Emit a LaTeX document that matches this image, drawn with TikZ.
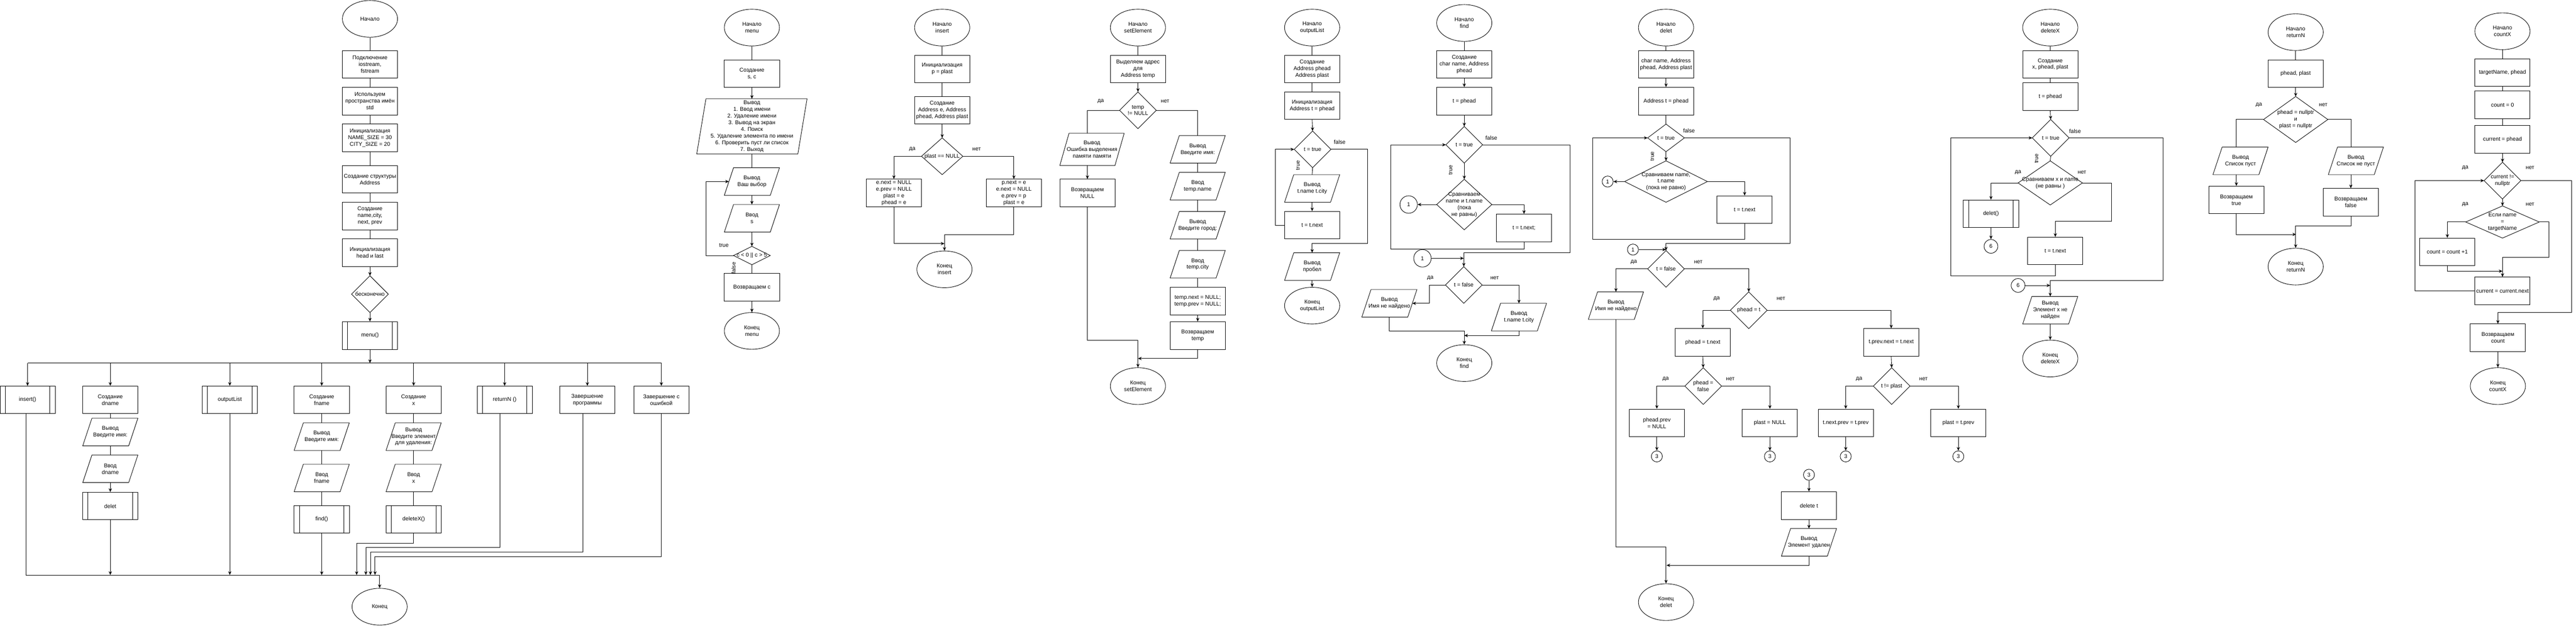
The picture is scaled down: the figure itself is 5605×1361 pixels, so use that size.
\documentclass[tikz,border=0pt]{standalone}
\usepackage{fontspec}
\setmainfont{Liberation Sans}
\usetikzlibrary{shapes.geometric,arrows.meta}
\newcommand\fs{\fontsize{12pt}{14.5pt}\selectfont}
\tikzset{
  ln/.style={line width=1pt},
  arr/.style={ln, -{Stealth[length=8pt,width=7pt]}},
  txt/.style={inner sep=0pt, align=center, font=\fs},
  blk/.style={draw, line width=1pt, rectangle, inner sep=0pt, minimum width=120pt, minimum height=60pt, align=center, font=\fs},
  term/.style={draw, line width=1pt, ellipse, inner sep=0pt, minimum width=120pt, minimum height=80pt, align=center, font=\fs},
  shp/.style={rectangle, inner sep=0pt, outer sep=0pt},
  con/.style={draw, line width=1pt, circle, inner sep=0pt, font=\fs}
}
\newcommand\mkBlk[4]{\node[blk] (#1) at (#2,#3) {#4};}
\newcommand\mkSub[4]{\node[blk] (#1) at (#2,#3) {#4};
  \draw[ln] ([xshift=12pt]#1.north west) -- ([xshift=12pt]#1.south west)
            ([xshift=-12pt]#1.north east) -- ([xshift=-12pt]#1.south east);}
\newcommand\mkPara[6]{\node[shp, minimum width=#4pt, minimum height=#5pt] (#1) at (#2,#3) {};
  \draw[ln] ([xshift=20pt]#1.north west) -- (#1.north east) -- ([xshift=-20pt]#1.south east) -- (#1.south west) -- cycle;
  \node[txt] (#1t) at (#1) {#6};}
\newcommand\mkDia[6]{\node[shp, minimum width=#4pt, minimum height=#5pt] (#1) at (#2,#3) {};
  \draw[ln] (#1.north) -- (#1.east) -- (#1.south) -- (#1.west) -- cycle;
  \node[txt] (#1t) at (#1) {#6};}
\newcommand\mkTerm[4]{\node[term] (#1) at (#2,#3) {#4};}
\newcommand\mkCirc[5]{\node[con, minimum size=#4pt] (#1) at (#2,#3) {#5};}
\newcommand\mkLbl[4]{\node[txt] (#1) at (#2,#3) {#4};}
\newcommand\mkRot[4]{\node[txt, rotate=90] (#1) at (#2,#3) {#4};}
\begin{document}
\begin{tikzpicture}[x=1pt,y=-1pt]
\useasboundingbox (0,0) rectangle (5605,1361);
\fill[white] (0,0) rectangle (5605,1361);

% ================= main =================
\mkTerm{m0}{805}{41}{Начало}
\mkBlk{m1}{805}{140}{Подключение\\iostream,\\fstream}
\mkBlk{m2}{805}{220}{Используем\\пространства имён\\std}
\mkBlk{m3}{805}{300}{Инициализация\\NAME\_SIZE = 30\\CITY\_SIZE = 20}
\mkBlk{m4}{805}{390}{Создание структуры\\Address}
\mkBlk{m5}{805}{470}{Создание\\name,city,\\next, prev}
\mkBlk{m6}{805}{550}{Инициализация\\head и last}
\mkDia{m7}{805}{640}{80}{80}{бесконечно}
\mkSub{m8}{805}{730}{menu()}
\draw[ln] (m0.south) -- (m1.north);
\draw[ln] (m1.south) -- (m2.north);
\draw[ln] (m2.south) -- (m3.north);
\draw[ln] (m3.south) -- (m4.north);
\draw[ln] (m4.south) -- (m5.north);
\draw[ln] (m5.south) -- (m6.north);
\draw[arr] (m6.south) -- (m7.north);
\draw[arr] (m7.south) -- (m8.north);
\coordinate (bL) at (60,790);
\coordinate (bR) at (1439,790);
\draw[ln] (bL) -- (bR);
\draw[arr] (m8.south) -- (m8.south |- bL);

\mkSub{i1}{60}{870}{insert()}
\mkBlk{d1}{240}{870}{Создание\\dname}
\mkPara{d2}{240}{940}{120}{60}{Вывод\\Введите имя:}
\mkPara{d3}{240}{1020}{120}{60}{Ввод\\dname}
\mkSub{d4}{240}{1101}{delet}
\mkSub{o1}{500}{870}{outputList}
\mkBlk{f1}{700}{870}{Создание\\fname}
\mkPara{f2}{700}{950}{120}{60}{Вывод\\Введите имя:}
\mkPara{f3}{700}{1040}{120}{60}{Ввод\\fname}
\mkSub{f4}{700}{1130}{find()}
\mkBlk{x1}{900}{870}{Создание\\x}
\mkPara{x2}{900}{950}{120}{60}{Вывод\\Введите элемент\\для удаления:}
\mkPara{x3}{900}{1040}{120}{60}{Ввод\\x}
\mkSub{x4}{900}{1130}{deleteX()}
\mkSub{r1}{1098}{870}{returnN ()}
\mkBlk{z1}{1278}{870}{Завершение\\программы}
\mkBlk{z2}{1439}{870}{Завершение с\\ошибкой}
\mkTerm{mend}{826}{1320}{Конец}

\foreach \n in {i1,d1,o1,f1,x1,r1,z1,z2} { \draw[arr] (\n.north |- bL) -- (\n.north); }
\draw[ln] (d1.south) -- (d2.north);
\draw[ln] (d2.south) -- (d3.north);
\draw[arr] (d3.south) -- (d4.north);
\draw[ln] (f1.south) -- (f2.north);
\draw[ln] (f2.south) -- (f3.north);
\draw[ln] (f3.south) -- (f4.north);
\draw[ln] (x1.south) -- (x2.north);
\draw[ln] (x2.south) -- (x3.north);
\draw[ln] (x3.south) -- (x4.north);
\coordinate (mj) at (826,1251);
\draw[ln] ([xshift=-4pt]i1.south) |- (mj);
\draw[arr] (mj) -- (mend.north);
\draw[arr] (d4.south) -- (d4.south |- mj);
\draw[arr] (o1.south) -- (o1.south |- mj);
\draw[arr] (f4.south) -- (f4.south |- mj);
\draw[arr] (x4.south) -- ++(0,21) -| ([xshift=-50pt]mj);
\draw[arr] ([xshift=-10pt]r1.south) -- ++(0,291) -| ([xshift=-30pt]mj);
\draw[arr] ([xshift=-10pt]z1.south) -- ++(0,301) -| ([xshift=-20pt]mj);
\draw[arr] (z2.south) -- ++(0,311) -| ([xshift=-10pt]mj);

% ================= menu =================
\mkTerm{n0}{1636}{60}{Начало\\menu}
\mkBlk{n1}{1636}{160}{Создание\\s, c}
\mkPara{n2}{1636}{275}{240}{120}{Вывод\\1. Ввод имени\\2. Удаление имени\\3. Вывод на экран\\4. Поиск\\5. Удаление элемента по имени\\6. Проверить пуст ли список\\7. Выход}
\mkPara{n3}{1636}{395}{120}{60}{Вывод\\Ваш выбор}
\mkPara{n4}{1636}{475}{120}{60}{Ввод\\s}
\mkDia{n5}{1636}{556}{80}{40}{c < 0 || c > 5}
\mkBlk{n6}{1636}{625}{Возвращаем c}
\mkTerm{n7}{1636}{720}{Конец\\menu}
\draw[ln] (n0.south) -- (n1.north);
\draw[arr] (n1.south) -- (n2.north);
\draw[ln] (n2.south) -- (n3.north);
\draw[arr] (n3.south) -- (n4.north);
\draw[arr] (n4.south) -- (n5.north);
\draw[arr] (n5.west) -- ++(-60,0) |- ([xshift=10pt]n3.west);
\draw[ln] (n5.south) -- (n6.north);
\draw[arr] (n6.south) -- (n7.north);
\mkLbl{n8}{1575}{534}{true}
\mkRot{n9}{1596}{583}{false}

% ================= insert =================
\mkTerm{a0}{2050}{60}{Начало\\insert}
\mkBlk{a1}{2050}{150}{Инициализация\\p = plast}
\mkBlk{a2}{2050}{240}{Создание\\Address e, Address\\phead, Address plast}
\mkDia{a3}{2050}{340}{90}{80}{plast == NULL}
\mkBlk{a4}{1945}{420}{e.next = NULL\\e.prev = NULL\\plast = e\\phead = e}
\mkBlk{a5}{2206}{420}{p.next = e\\e.next = NULL\\e.prev = p\\plast = e}
\mkTerm{a6}{2055}{586}{Конец\\insert}
\coordinate (a7) at (2055,530);
\draw[ln] (a0.south) -- (a1.north);
\draw[ln] (a1.south) -- (a2.north);
\draw[arr] (a2.south) -- (a3.north);
\draw[arr] (a3.west) -| (a4.north);
\draw[arr] (a3.east) -| (a5.north);
\draw[arr] (a5.south) -- ++(0,60) -| (a6.north);
\draw[arr] (a4.south) |- (a7);
\mkLbl{a8}{1985}{325}{да}
\mkLbl{a9}{2125}{325}{нет}

% ================= setElement =================
\mkTerm{s0}{2476}{60}{Начало\\setElement}
\mkBlk{s1}{2476}{150}{Выделяем адрес\\для\\Address temp}
\mkDia{s2}{2476}{240}{80}{80}{temp\\!= NULL}
\mkPara{s3}{2376}{325}{140}{70}{Вывод\\Ошибка выделения\\памяти памяти}
\mkBlk{s4}{2366}{420}{Возвращаем\\NULL}
\mkPara{s5}{2606}{325}{120}{60}{Вывод\\Введите имя:}
\mkPara{s6}{2606}{405}{120}{60}{Ввод\\temp.name}
\mkPara{s7}{2606}{490}{120}{60}{Вывод\\Введите город:}
\mkPara{s8}{2606}{575}{120}{60}{Ввод\\temp.city}
\mkBlk{s9}{2606}{655}{temp.next = NULL;\\temp.prev = NULL;}
\mkBlk{s10}{2606}{730}{Возвращаем\\temp}
\mkTerm{s11}{2476}{840}{Конец\\setElement}
\coordinate (s12) at (2476,780);
\draw[ln] (s0.south) -- (s1.north);
\draw[arr] (s1.south) -- (s2.north);
\draw[ln] (s2.west) -| ([xshift=-10pt]s3.north);
\draw[arr] ([xshift=-10pt]s3.south) -- (s4.north);
\draw[ln] (s2.east) -| (s5.north);
\draw[ln] (s5.south) -- (s6.north);
\draw[ln] (s6.south) -- (s7.north);
\draw[ln] (s7.south) -- (s8.north);
\draw[ln] (s8.south) -- (s9.north);
\draw[arr] (s9.south) -- (s10.north);
\draw[arr] (s4.south) -- ++(0,290) -| (s11.north);
\draw[arr] (s10.south) |- (s12);
\mkLbl{s13}{2395}{220}{да}
\mkLbl{s14}{2535}{220}{нет}

% ================= outputList =================
\mkTerm{p0}{2855}{60}{Начало\\outputList}
\mkBlk{p1}{2855}{150}{Создание\\Address phead\\Address plast}
\mkBlk{p2}{2855}{230}{Инициализация\\Address t = phead}
\mkDia{p3}{2856}{325}{80}{80}{t = true}
\mkPara{p4}{2855}{410}{120}{60}{Вывод\\t.name t.city}
\mkBlk{p5}{2855}{490}{t = t.next}
\mkPara{p6}{2855}{580}{120}{60}{Вывод\\пробел}
\mkTerm{p7}{2855}{665}{Конец\\outputList}
\draw[ln] (p0.south) -- (p1.north);
\draw[ln] (p1.south) -- (p2.north);
\draw[arr] (p2.south) -- (p3.north);
\draw[ln] (p3.south) -- (p4.north);
\draw[arr] (p4.south) -- (p5.north);
\draw[arr] (p5.west) -- ++(-20,0) |- (p3.west);
\draw[arr] (p3.east) -- ++(80,0) -- ++(0,205) -| (p6.north);
\draw[arr] (p6.south) -- (p7.north);
\mkLbl{p8}{2915}{309}{false}
\mkRot{p9}{2824}{360}{true}

% ================= find =================
\mkTerm{q0}{3186}{50}{Начало\\find}
\mkBlk{q1}{3186}{140}{Создание\\char name, Address\\phead}
\mkBlk{q2}{3186}{220}{t = phead}
\mkDia{q3}{3186}{315}{80}{80}{t = true}
\mkDia{q4}{3186}{445}{120}{110}{Сравниваем\\name и t.name\\(пока\\не равны)}
\mkCirc{q5}{3065}{445}{38}{1}
\mkBlk{q6}{3316}{496}{t = t.next;}
\mkCirc{q7}{3095}{562}{38}{1}
\mkDia{q8}{3185}{620}{80}{80}{t = false}
\mkPara{q9}{3023}{660}{120}{60}{Вывод\\Имя не найдено}
\mkPara{q10}{3305}{690}{120}{60}{Вывод\\t.name t.city}
\mkTerm{q11}{3186}{790}{Конец\\find}
\coordinate (q12) at (3186,730);
\draw[ln] (q0.south) -- (q1.north);
\draw[arr] (q1.south) -- (q2.north);
\draw[arr] (q2.south) -- (q3.north);
\draw[arr] (q3.south) -- (q4.north);
\draw[arr] (q4.west) -- (q5.east);
\draw[arr] (q4.east) -| (q6.north);
\draw[arr] (q6.south) -- ++(0,15) -- ++(-290,0) |- (q3.west);
\draw[arr] (q3.east) -- ++(190,0) -- ++(0,235) -| (q8.north);
\draw[arr] (q7.east) -- (q7.east -| q8.north);
\draw[arr] (q8.west) -- ++(-35,0) |- ([xshift=-10pt]q9.east);
\draw[arr] (q8.east) -| (q10.north);
\draw[arr] (q9.south) -- ++(0,30) -| (q11.north);
\draw[arr] (q10.south) |- (q12);
\mkLbl{q13}{3245}{300}{false}
\mkRot{q14}{3156}{370}{true}
\mkLbl{q15}{3112}{605}{да}
\mkLbl{q16}{3252}{605}{нет}

% ================= delet =================
\mkTerm{e0}{3625}{60}{Начало\\delet}
\mkBlk{e1}{3625}{140}{char name, Address\\phead, Address plast}
\mkBlk{e2}{3625}{220}{Address t = phead}
\mkDia{e3}{3625}{300}{80}{60}{t = true}
\mkDia{e4}{3625}{395}{180}{90}{Сравниваем name,\\t.name\\(пока не равно)}
\mkCirc{e5}{3498}{395}{24}{1}
\mkBlk{e6}{3796}{456}{t = t.next}
\mkCirc{e7}{3553}{543}{24}{1}
\mkDia{e8}{3625}{585}{80}{80}{t = false}
\mkPara{e9}{3516}{665}{120}{60}{Вывод\\Имя не найдено}
\mkDia{e10}{3805}{675}{80}{80}{phead = t}
\mkBlk{e11}{3705}{745}{phead = t.next}
\mkBlk{e12}{4115}{745}{t.prev.next = t.next}
\mkDia{e13}{3706}{840}{80}{80}{phead =\\false}
\mkDia{e14}{4116}{840}{80}{80}{t != plast}
\mkBlk{e15}{3605}{920}{phead.prev\\= NULL}
\mkBlk{e16}{3851}{920}{plast = NULL}
\mkBlk{e17}{4016}{920}{t.next.prev = t.prev}
\mkBlk{e18}{4261}{920}{plast = t.prev}
\mkCirc{e19}{3605}{993}{24}{3}
\mkCirc{e20}{3851}{993}{24}{3}
\mkCirc{e21}{4016}{993}{24}{3}
\mkCirc{e22}{4261}{993}{24}{3}
\mkCirc{e23}{3936}{1033}{24}{3}
\mkBlk{e24}{3936}{1100}{delete t}
\mkPara{e25}{3936}{1180}{120}{60}{Вывод\\Элемент удален}
\mkTerm{e26}{3625}{1310}{Конец\\delet}
\coordinate (e27) at (3626,1230);
\draw[ln] (e0.south) -- (e1.north);
\draw[arr] (e1.south) -- (e2.north);
\draw[ln] (e2.south) -- (e3.north);
\draw[arr] (e3.south) -- (e4.north);
\draw[arr] (e4.west) -- (e5.east);
\draw[arr] (e4.east) -| (e6.north);
\draw[arr] (e6.south) -- ++(0,34) -- ++(-330,0) |- (e3.west);
\draw[arr] (e3.east) -- ++(230,0) -- ++(0,230) -| (e8.north);
\draw[arr] (e7.east) -- (e7.east -| e8.north);
\draw[arr] (e8.west) -| (e9.north);
\draw[arr] (e8.east) -| (e10.north);
\draw[arr] (e10.west) -| (e11.north);
\draw[arr] (e10.east) -| (e12.north);
\draw[arr] (e11.south) -- (e13.north);
\draw[arr] (e12.south) -- (e14.north);
\draw[arr] (e13.west) -| (e15.north);
\draw[arr] (e13.east) -| (e16.north);
\draw[arr] (e14.west) -| (e17.north);
\draw[arr] (e14.east) -| (e18.north);
\draw[arr] (e15.south) -- (e19.north);
\draw[arr] (e16.south) -- (e20.north);
\draw[arr] (e17.south) -- (e21.north);
\draw[arr] (e18.south) -- (e22.north);
\draw[arr] (e23.south) -- (e24.north);
\draw[arr] (e24.south) -- (e25.north);
\draw[arr] (e25.south) |- (e27);
\draw[arr] (e9.south) -- ++(0,495) -| (e26.north);
\mkLbl{e28}{3675}{284}{false}
\mkRot{e29}{3595}{340}{true}
\mkLbl{e30}{3555}{570}{да}
\mkLbl{e31}{3695}{570}{нет}
\mkLbl{e32}{3735}{650}{да}
\mkLbl{e33}{3875}{650}{нет}
\mkLbl{e34}{3624}{825}{да}
\mkLbl{e35}{3765}{825}{нет}
\mkLbl{e36}{4045}{825}{да}
\mkLbl{e37}{4185}{825}{нет}

% ================= deleteX =================
\mkTerm{g0}{4461}{60}{Начало\\deleteX}
\mkBlk{g1}{4461}{140}{Создание\\x,  phead, plast}
\mkBlk{g2}{4461}{210}{t = phead}
\mkDia{g3}{4462}{300}{80}{80}{t = true}
\mkDia{g4}{4461}{398}{140}{96}{Сравниваем x и name\\(не равны )}
\mkSub{g5}{4332}{465}{delet()}
\mkCirc{g6}{4332}{536}{30}{6}
\mkBlk{g7}{4472}{546}{t = t.next}
\mkCirc{g8}{4391}{621}{30}{6}
\mkPara{g9}{4461}{675}{120}{60}{Вывод\\Элемент x не\\найден}
\mkTerm{g10}{4461}{780}{Конец\\deleteX}
\draw[ln] (g0.south) -- (g1.north);
\draw[ln] (g1.south) -- (g2.north);
\draw[arr] (g2.south) -- (g3.north);
\draw[ln] (g3.south) -- (g4.north);
\draw[arr] (g4.west) -| (g5.north);
\draw[arr] (g4.east) -- ++(63,0) -- ++(0,83) -| (g7.north);
\draw[arr] (g5.south) -- (g6.north);
\draw[arr] (g7.south) -- ++(0,24) -- ++(-228,0) |- (g3.west);
\draw[arr] (g3.east) -- ++(204,0) -- ++(0,310) -| (g9.north);
\draw[arr] (g8.east) -- (g8.east -| g9.north);
\draw[arr] (g9.south) -- (g10.north);
\mkLbl{g11}{4515}{285}{false}
\mkRot{g12}{4431}{345}{true}
\mkLbl{g13}{4391}{375}{да}
\mkLbl{g14}{4530}{375}{нет}

% ================= returnN =================
\mkTerm{h0}{4995}{70}{Начало\\returnN}
\mkBlk{h1}{4995}{160}{phead, plast}
\mkDia{h2}{4995}{260}{140}{100}{phead = nullptr\\и\\plast = nullptr}
\mkPara{h3}{4875}{350}{120}{60}{Вывод\\Список пуст}
\mkBlk{h4}{4866}{435}{Возвращаем\\true}
\mkPara{h5}{5126}{350}{120}{60}{Вывод\\Список не пуст}
\mkBlk{h6}{5115}{440}{Возвращаем\\false}
\mkTerm{h7}{4995}{580}{Конец\\returnN}
\coordinate (h8) at (4996,510);
\draw[ln] (h0.south) -- (h1.north);
\draw[arr] (h1.south) -- (h2.north);
\draw[ln] (h2.west) -| ([xshift=-9pt]h3.north);
\draw[ln] (h2.east) -| ([xshift=-11pt]h5.north);
\draw[arr] ([xshift=-9pt]h3.south) -- (h4.north);
\draw[arr] ([xshift=-11pt]h5.south) -- (h6.north);
\draw[arr] (h4.south) |- (h8);
\draw[arr] (h6.south) -- ++(0,21) -| (h7.north);
\mkLbl{h9}{4915}{228}{да}
\mkLbl{h10}{5055}{228}{нет}

% ================= countX =================
\mkTerm{c0}{5445}{68}{Начало\\countX}
\mkBlk{c1}{5445}{158}{targetName, phead}
\mkBlk{c2}{5445}{228}{count = 0}
\mkBlk{c3}{5445}{303}{current = phead}
\mkDia{c4}{5445}{393}{80}{80}{current !=\\nullptr}
\mkDia{c5}{5445}{483}{160}{70}{Если name\\=\\targetName}
\mkBlk{c6}{5325}{548}{count = count +1}
\mkBlk{c7}{5445}{633}{current = current.next}
\mkBlk{c8}{5435}{735}{Возвращаем\\count}
\mkTerm{c9}{5435}{840}{Конец\\countX}
\coordinate (c10) at (5445,590);
\draw[ln] (c0.south) -- (c1.north);
\draw[ln] (c1.south) -- (c2.north);
\draw[ln] (c2.south) -- (c3.north);
\draw[arr] (c3.south) -- (c4.north);
\draw[arr] (c4.south) -- (c5.north);
\draw[arr] (c5.west) -| (c6.north);
\draw[arr] (c5.east) -- ++(21,0) -- ++(0,77) -| (c7.north);
\draw[arr] (c6.south) |- (c10);
\draw[arr] (c7.west) -- ++(-130,0) |- (c4.west);
\draw[arr] (c4.east) -- ++(110,0) -- ++(0,287) -| (c8.north);
\draw[arr] (c8.south) -- (c9.north);
\mkLbl{c11}{5364}{365}{да}
\mkLbl{c12}{5505}{365}{нет}
\mkLbl{c13}{5364}{445}{да}
\mkLbl{c14}{5505}{445}{нет}
\end{tikzpicture}
\end{document}
